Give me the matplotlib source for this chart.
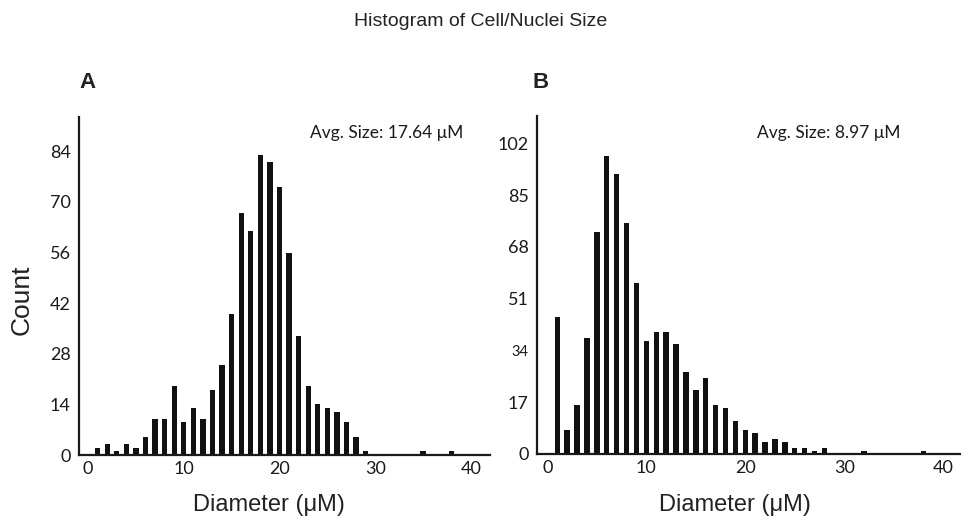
import numpy as np
import matplotlib
matplotlib.use('Agg')
import matplotlib.pyplot as plt

# panel A: cell diameter counts
diam_a = [1, 2, 3, 4, 5, 6, 7, 8, 9, 10, 11, 12, 13, 14, 15, 16, 17, 18, 19, 20,
          21, 22, 23, 24, 25, 26, 27, 28, 29, 35, 38]
count_a = [2, 3, 1, 3, 2, 5, 10, 10, 19, 9, 13, 10, 18, 25, 39, 67, 62, 83, 81, 74,
           56, 33, 19, 14, 13, 12, 9, 5, 1, 1, 1]
yticks_a = [0, 14, 28, 42, 56, 70, 84]
avg_a = 'Avg. Size: 17.64 \u03bcM'

# panel B: nuclei diameter counts
diam_b = [1, 2, 3, 4, 5, 6, 7, 8, 9, 10, 11, 12, 13, 14, 15, 16, 17, 18, 19, 20,
          21, 22, 23, 24, 25, 26, 27, 28, 32, 38]
count_b = [45, 8, 16, 38, 73, 98, 92, 76, 56, 37, 40, 40, 36, 27, 21, 25, 16, 15, 11, 8,
           7, 4, 5, 4, 2, 2, 1, 2, 1, 1]
yticks_b = [0, 17, 34, 51, 68, 85, 102]
avg_b = 'Avg. Size: 8.97 \u03bcM'

xticks = [0, 10, 20, 30, 40]

W, H = 962, 522
fig = plt.figure(figsize=(W / 100, H / 100), dpi=100)

tick_font = ['Lato', 'DejaVu Sans']
label_font = ['Liberation Sans', 'DejaVu Sans']


def px(x, y):
    return x / W, 1 - y / H


def panel(rect, xs, ys, yticks, xlim, ylim, avg, avg_xy):
    ax = fig.add_axes(rect)
    ax.bar(xs, ys, width=0.55, color='#111111')
    ax.set_xlim(*xlim)
    ax.set_ylim(*ylim)
    for s in ['top', 'right']:
        ax.spines[s].set_visible(False)
    for s in ['left', 'bottom']:
        ax.spines[s].set_linewidth(1.6)
        ax.spines[s].set_color('#1a1a1a')
    ax.set_xticks(xticks)
    ax.set_yticks(yticks)
    ax.tick_params(axis='y', length=0, labelsize=13, pad=6)
    ax.tick_params(axis='x', length=0, labelsize=13, pad=4)
    for lab in ax.get_xticklabels() + ax.get_yticklabels():
        lab.set_family(tick_font)
        lab.set_color('#1a1a1a')
    fx, fy = px(*avg_xy)
    fig.text(fx, fy, avg, family=tick_font, fontsize=12.5, color='#1a1a1a',
             ha='left', va='center')
    return ax


ax_a = panel([79 / W, 67 / H, 411 / W, 338 / H], diam_a, count_a, yticks_a,
             (-0.95, 42.0), (0, 93.5), avg_a, (310, 133))
ax_b = panel([537 / W, 68 / H, 425 / W, 338 / H], diam_b, count_b, yticks_b,
             (-1.05, 41.9), (0, 111), avg_b, (757, 133))

# the "34" label is printed smaller in the original
for lab in ax_b.get_yticklabels():
    if lab.get_text() == '34':
        lab.set_fontsize(10.5)

fig.text(*px(481, 22), 'Histogram of Cell/Nuclei Size', family=label_font,
         fontsize=14, ha='center', va='center', color='#222222')
fig.text(*px(87, 83), 'A', family=label_font, fontsize=16, weight='bold',
         ha='center', va='center', color='#222222')
fig.text(*px(541, 83), 'B', family=label_font, fontsize=16, weight='bold',
         ha='center', va='center', color='#222222')
fig.text(*px(22, 300), 'Count', family=label_font, fontsize=19, rotation=90,
         ha='center', va='center', color='#222222')
fig.text(*px(269, 505), 'Diameter (\u03bcM)', family=label_font, fontsize=17,
         ha='center', va='center', color='#222222')
fig.text(*px(735, 505), 'Diameter (\u03bcM)', family=label_font, fontsize=17,
         ha='center', va='center', color='#222222')

fig.savefig('out.png', dpi=100)
